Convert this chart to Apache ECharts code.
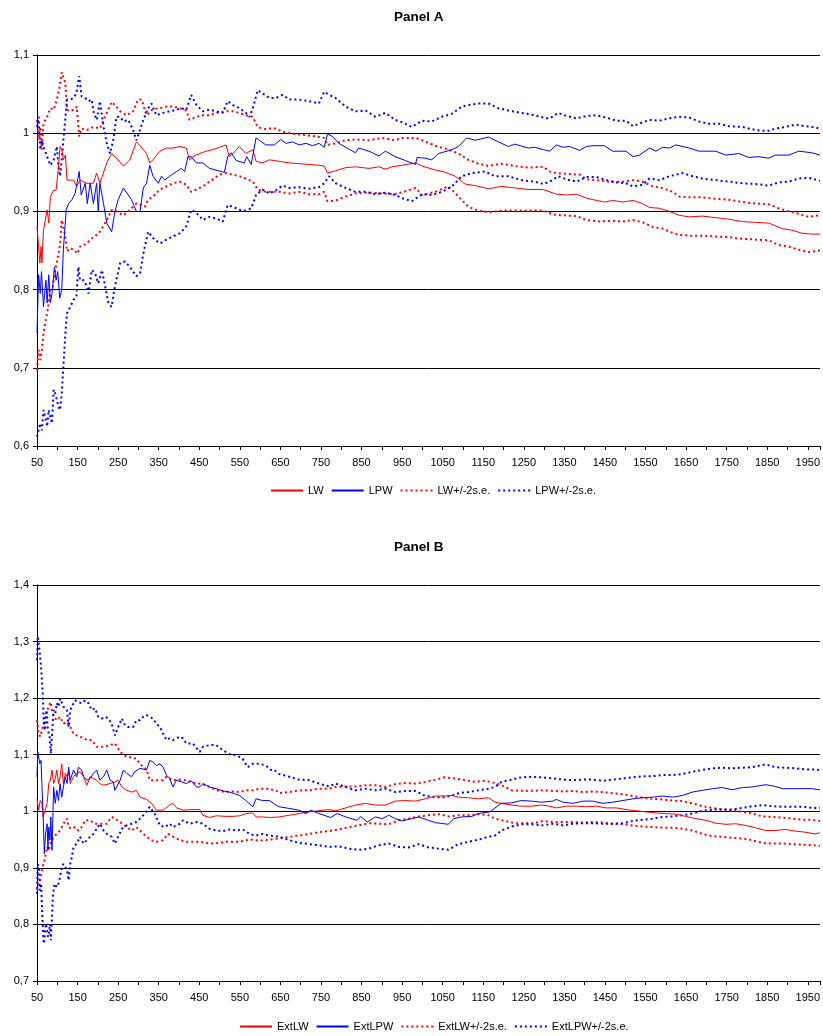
<!DOCTYPE html>
<html><head><meta charset="utf-8">
<script src="https://cdn.jsdelivr.net/npm/echarts@6/dist/echarts.min.js"></script>
<style>html,body{margin:0;padding:0;background:#fff}#c{width:823px;height:1036px}</style>
</head><body><div id="c"></div>
<script>
// ---------- data (x = observation count, y = value) ----------
const titles = ['Panel A', 'Panel B'];
const namesA = ['LW', 'LPW', 'LW+/-2s.e.', 'LPW+/-2s.e.'];
const namesB = ['ExtLW', 'ExtLPW', 'ExtLW+/-2s.e.', 'ExtLPW+/-2s.e.'];
const xMin = 50, xMax = 1980, xLabelStep = 100, xTickStep = 50;
const yRangeA = [0.6, 1.1], yRangeB = [0.7, 1.4], yStep = 0.1;

const lwA = [[50,0.881],[57,0.834],[60,0.855],[62,0.834],[66,0.876],[75,0.902],[79,0.885],[83,0.919],[91,0.927],[97,0.927],[103,0.957],[107,0.983],[111,0.979],[115,0.966],[120,0.972],[124,0.940],[132,0.940],[140,0.940],[148,0.932],[156,0.940],[173,0.936],[189,0.936],[197,0.949],[205,0.936],[222,0.962],[234,0.974],[246,0.968],[263,0.958],[279,0.966],[295,0.989],[304,0.984],[320,0.974],[328,0.962],[336,0.966],[353,0.977],[369,0.981],[385,0.981],[402,0.983],[418,0.981],[426,0.966],[434,0.970],[451,0.974],[467,0.977],[484,0.979],[516,0.985],[524,0.970],[533,0.974],[549,0.983],[565,0.974],[582,0.979],[590,0.964],[606,0.962],[623,0.966],[647,0.964],[672,0.962],[696,0.961],[721,0.960],[745,0.959],[758,0.958],[766,0.949],[786,0.952],[811,0.956],[835,0.957],[868,0.955],[893,0.957],[909,0.954],[925,0.957],[950,0.959],[983,0.962],[999,0.958],[1032,0.953],[1056,0.950],[1081,0.945],[1105,0.935],[1130,0.933],[1163,0.929],[1195,0.932],[1228,0.930],[1261,0.928],[1298,0.928],[1330,0.922],[1355,0.921],[1380,0.922],[1404,0.917],[1429,0.914],[1449,0.912],[1469,0.914],[1494,0.912],[1519,0.914],[1543,0.910],[1560,0.905],[1584,0.904],[1609,0.900],[1633,0.895],[1658,0.893],[1690,0.894],[1723,0.892],[1756,0.890],[1789,0.887],[1821,0.886],[1854,0.885],[1887,0.878],[1911,0.876],[1936,0.872],[1960,0.871],[1980,0.871]];
const lpwA = [[50,0.744],[54,0.819],[58,0.795],[61,0.823],[66,0.778],[72,0.812],[75,0.783],[79,0.819],[83,0.783],[87,0.795],[93,0.829],[97,0.812],[101,0.823],[106,0.789],[111,0.800],[115,0.851],[122,0.902],[128,0.910],[136,0.915],[144,0.923],[154,0.951],[159,0.921],[169,0.936],[174,0.910],[181,0.936],[189,0.910],[197,0.936],[201,0.900],[205,0.936],[214,0.910],[222,0.885],[234,0.874],[242,0.900],[250,0.915],[263,0.930],[275,0.921],[283,0.915],[295,0.900],[304,0.900],[312,0.930],[320,0.936],[328,0.959],[336,0.945],[349,0.936],[357,0.945],[365,0.940],[377,0.945],[394,0.951],[406,0.955],[414,0.951],[422,0.970],[430,0.970],[443,0.962],[459,0.962],[475,0.955],[512,0.950],[520,0.970],[529,0.975],[541,0.965],[561,0.962],[567,0.970],[578,0.960],[590,0.994],[598,0.991],[614,0.985],[635,0.985],[651,0.992],[664,0.987],[680,0.989],[696,0.985],[713,0.987],[729,0.984],[745,0.987],[758,0.982],[766,0.999],[778,0.996],[794,0.987],[811,0.982],[835,0.975],[843,0.981],[868,0.977],[893,0.971],[909,0.977],[933,0.970],[958,0.965],[983,0.960],[987,0.969],[1007,0.968],[1023,0.966],[1040,0.974],[1073,0.979],[1089,0.983],[1109,0.994],[1130,0.991],[1163,0.995],[1187,0.989],[1212,0.983],[1228,0.986],[1261,0.981],[1277,0.982],[1298,0.979],[1314,0.977],[1330,0.985],[1347,0.982],[1363,0.983],[1388,0.978],[1404,0.983],[1420,0.984],[1449,0.984],[1469,0.977],[1502,0.977],[1519,0.970],[1535,0.972],[1560,0.981],[1576,0.977],[1592,0.982],[1609,0.981],[1625,0.985],[1658,0.981],[1682,0.977],[1723,0.977],[1748,0.972],[1780,0.974],[1805,0.969],[1829,0.970],[1854,0.968],[1870,0.972],[1903,0.972],[1928,0.977],[1960,0.975],[1980,0.972]];
const lwUpA = [[50,1.017],[54,0.991],[58,1.008],[62,0.979],[66,1.013],[75,1.021],[83,1.032],[91,1.030],[99,1.043],[106,1.060],[111,1.078],[115,1.077],[120,1.064],[124,1.030],[132,1.028],[140,1.030],[148,1.034],[154,0.996],[160,1.006],[173,1.004],[189,1.008],[205,1.006],[222,1.026],[234,1.040],[242,1.036],[255,1.028],[271,1.023],[287,1.028],[299,1.043],[308,1.043],[320,1.023],[336,1.031],[353,1.032],[369,1.034],[385,1.034],[402,1.032],[418,1.029],[426,1.017],[443,1.021],[459,1.023],[475,1.023],[492,1.026],[516,1.028],[533,1.028],[549,1.026],[565,1.023],[582,1.021],[594,1.008],[614,1.005],[623,1.006],[639,1.006],[655,1.002],[672,1.000],[704,0.998],[737,0.996],[758,0.994],[766,0.985],[786,0.987],[811,0.991],[835,0.992],[868,0.991],[901,0.994],[933,0.991],[950,0.994],[983,0.994],[999,0.991],[1032,0.984],[1064,0.979],[1089,0.974],[1113,0.966],[1138,0.961],[1163,0.958],[1195,0.961],[1228,0.958],[1261,0.956],[1298,0.957],[1314,0.951],[1330,0.949],[1355,0.948],[1388,0.947],[1404,0.941],[1429,0.940],[1461,0.938],[1494,0.938],[1519,0.940],[1543,0.938],[1568,0.932],[1592,0.930],[1617,0.925],[1633,0.919],[1658,0.918],[1690,0.918],[1723,0.916],[1756,0.915],[1789,0.912],[1821,0.910],[1854,0.909],[1878,0.904],[1903,0.900],[1928,0.897],[1952,0.893],[1980,0.895]];
const lwLoA = [[50,0.697],[54,0.723],[58,0.710],[62,0.723],[66,0.744],[70,0.757],[75,0.770],[79,0.783],[83,0.800],[89,0.804],[95,0.825],[103,0.846],[107,0.859],[111,0.889],[115,0.881],[120,0.866],[124,0.849],[132,0.853],[140,0.851],[150,0.846],[156,0.855],[165,0.857],[173,0.859],[181,0.864],[197,0.870],[205,0.874],[222,0.889],[234,0.902],[246,0.900],[263,0.895],[279,0.902],[295,0.910],[308,0.908],[316,0.906],[324,0.915],[336,0.919],[353,0.928],[369,0.932],[385,0.936],[402,0.938],[418,0.934],[430,0.925],[443,0.928],[459,0.932],[475,0.938],[500,0.947],[516,0.949],[533,0.947],[549,0.945],[565,0.942],[582,0.938],[594,0.928],[614,0.925],[647,0.925],[672,0.923],[696,0.925],[721,0.922],[745,0.922],[758,0.925],[766,0.913],[786,0.914],[811,0.919],[835,0.923],[868,0.924],[901,0.923],[933,0.922],[966,0.927],[983,0.930],[999,0.921],[1032,0.925],[1064,0.932],[1089,0.919],[1113,0.906],[1138,0.901],[1163,0.899],[1195,0.901],[1228,0.901],[1261,0.901],[1298,0.901],[1322,0.896],[1347,0.895],[1380,0.894],[1404,0.889],[1437,0.887],[1469,0.888],[1494,0.887],[1519,0.889],[1543,0.886],[1568,0.880],[1592,0.878],[1609,0.874],[1633,0.870],[1658,0.869],[1690,0.869],[1723,0.868],[1756,0.867],[1789,0.865],[1821,0.864],[1854,0.863],[1878,0.857],[1903,0.855],[1928,0.851],[1952,0.848],[1980,0.850]];
const lpwUpA = [[50,1.008],[54,1.021],[58,0.979],[62,0.991],[66,0.983],[75,0.970],[83,0.959],[87,0.962],[91,0.966],[99,0.983],[103,0.957],[107,0.945],[111,0.966],[115,0.991],[124,1.043],[132,1.043],[140,1.045],[147,1.051],[154,1.073],[160,1.047],[169,1.045],[177,1.041],[185,1.043],[189,1.028],[197,1.017],[205,1.041],[214,1.008],[222,0.987],[230,0.974],[238,0.991],[246,1.021],[255,1.021],[263,1.015],[275,1.017],[287,1.004],[295,0.991],[304,1.004],[312,1.017],[324,1.032],[332,1.038],[344,1.023],[361,1.026],[377,1.028],[394,1.030],[406,1.032],[418,1.030],[430,1.049],[443,1.036],[459,1.028],[475,1.030],[492,1.028],[508,1.026],[520,1.041],[533,1.036],[549,1.032],[565,1.026],[574,1.021],[582,1.032],[594,1.055],[606,1.051],[623,1.045],[639,1.045],[655,1.049],[672,1.043],[696,1.043],[721,1.041],[745,1.038],[758,1.053],[770,1.049],[786,1.045],[811,1.034],[835,1.028],[860,1.029],[884,1.021],[909,1.026],[933,1.017],[950,1.014],[974,1.008],[999,1.016],[1023,1.015],[1048,1.021],[1073,1.025],[1097,1.034],[1113,1.036],[1138,1.038],[1163,1.038],[1187,1.032],[1212,1.029],[1244,1.026],[1277,1.023],[1298,1.020],[1314,1.019],[1335,1.026],[1355,1.022],[1380,1.019],[1404,1.022],[1429,1.023],[1453,1.020],[1478,1.016],[1502,1.016],[1519,1.009],[1543,1.014],[1560,1.017],[1584,1.016],[1609,1.019],[1633,1.021],[1658,1.020],[1682,1.015],[1707,1.012],[1731,1.012],[1756,1.009],[1789,1.008],[1813,1.005],[1838,1.003],[1854,1.003],[1870,1.006],[1895,1.008],[1919,1.011],[1944,1.009],[1960,1.008],[1980,1.006]];
const lpwLoA = [[50,0.612],[54,0.610],[58,0.629],[62,0.620],[66,0.646],[70,0.638],[75,0.625],[79,0.646],[83,0.646],[87,0.629],[91,0.672],[95,0.667],[99,0.659],[103,0.650],[107,0.646],[111,0.667],[115,0.702],[120,0.744],[124,0.770],[132,0.778],[140,0.787],[147,0.791],[152,0.829],[156,0.812],[165,0.812],[173,0.804],[177,0.795],[185,0.825],[193,0.821],[201,0.808],[210,0.825],[218,0.804],[226,0.783],[234,0.778],[242,0.804],[255,0.834],[267,0.836],[279,0.829],[295,0.817],[304,0.821],[312,0.846],[324,0.874],[336,0.866],[353,0.859],[369,0.864],[385,0.868],[402,0.872],[418,0.881],[430,0.902],[443,0.898],[459,0.889],[475,0.893],[492,0.891],[508,0.887],[520,0.908],[533,0.906],[549,0.902],[565,0.901],[578,0.904],[590,0.921],[606,0.928],[623,0.923],[639,0.927],[655,0.933],[672,0.930],[696,0.931],[721,0.929],[745,0.931],[758,0.936],[770,0.945],[786,0.936],[811,0.930],[835,0.925],[860,0.925],[884,0.922],[909,0.924],[933,0.921],[950,0.917],[974,0.913],[999,0.922],[1023,0.921],[1048,0.925],[1073,0.932],[1097,0.945],[1122,0.949],[1154,0.951],[1179,0.945],[1212,0.945],[1244,0.940],[1277,0.938],[1298,0.935],[1314,0.938],[1335,0.945],[1355,0.941],[1380,0.938],[1404,0.944],[1429,0.944],[1453,0.940],[1478,0.937],[1502,0.936],[1519,0.932],[1543,0.934],[1560,0.942],[1584,0.940],[1609,0.945],[1641,0.949],[1666,0.945],[1690,0.942],[1723,0.940],[1756,0.938],[1789,0.936],[1821,0.935],[1854,0.933],[1878,0.937],[1903,0.938],[1928,0.942],[1952,0.943],[1980,0.939]];

const lwB = [[50,1.022],[54,1.002],[58,1.019],[62,1.014],[65,0.990],[70,1.002],[75,1.014],[79,1.049],[83,1.055],[87,1.073],[91,1.049],[95,1.058],[99,1.073],[103,1.049],[107,1.061],[111,1.084],[115,1.049],[120,1.067],[124,1.061],[128,1.070],[132,1.049],[140,1.061],[148,1.067],[156,1.070],[165,1.061],[173,1.046],[181,1.061],[189,1.058],[197,1.055],[205,1.049],[214,1.046],[230,1.049],[242,1.052],[250,1.055],[259,1.043],[271,1.037],[283,1.034],[295,1.037],[304,1.025],[320,1.021],[332,1.014],[344,1.002],[361,1.002],[377,1.011],[385,1.014],[394,1.006],[410,1.002],[430,1.003],[451,1.003],[459,0.993],[475,0.989],[492,0.992],[516,0.991],[533,0.991],[549,0.992],[565,0.996],[582,0.997],[590,0.990],[606,0.990],[623,0.989],[647,0.990],[672,0.993],[696,0.996],[721,0.999],[745,1.001],[770,1.003],[786,1.001],[811,1.006],[835,1.011],[860,1.014],[884,1.011],[909,1.011],[933,1.018],[958,1.019],[983,1.018],[1007,1.022],[1032,1.027],[1056,1.027],[1073,1.028],[1089,1.025],[1113,1.024],[1138,1.022],[1163,1.024],[1179,1.016],[1195,1.014],[1220,1.011],[1244,1.009],[1269,1.009],[1293,1.011],[1314,1.009],[1330,1.006],[1355,1.009],[1380,1.009],[1404,1.008],[1429,1.009],[1453,1.006],[1478,1.006],[1502,1.003],[1527,1.001],[1551,0.999],[1576,0.997],[1600,0.996],[1625,0.995],[1649,0.991],[1674,0.987],[1699,0.984],[1723,0.979],[1748,0.977],[1772,0.978],[1797,0.975],[1821,0.971],[1846,0.966],[1870,0.966],[1895,0.968],[1919,0.965],[1944,0.963],[1968,0.960],[1980,0.962]];
const lpwB = [[50,1.061],[52,1.105],[57,1.084],[60,1.090],[62,1.049],[65,0.996],[68,0.925],[71,0.960],[75,0.978],[77,0.931],[79,0.972],[82,0.949],[84,0.990],[87,0.931],[91,1.043],[95,1.014],[99,1.037],[103,1.019],[107,1.049],[111,1.025],[115,1.043],[120,1.061],[124,1.049],[128,1.078],[132,1.055],[140,1.073],[148,1.061],[152,1.078],[160,1.073],[165,1.061],[173,1.055],[181,1.058],[189,1.067],[197,1.073],[205,1.055],[214,1.061],[222,1.073],[230,1.055],[238,1.052],[242,1.037],[255,1.055],[263,1.073],[271,1.067],[283,1.061],[291,1.070],[304,1.076],[320,1.073],[328,1.090],[336,1.087],[344,1.081],[353,1.084],[361,1.078],[369,1.064],[377,1.058],[385,1.043],[394,1.055],[406,1.052],[418,1.049],[430,1.054],[443,1.043],[451,1.043],[459,1.049],[475,1.043],[492,1.040],[508,1.036],[524,1.034],[537,1.031],[549,1.028],[565,1.019],[582,1.008],[590,1.022],[606,1.019],[623,1.019],[639,1.011],[647,1.008],[672,1.005],[696,1.002],[713,0.996],[725,1.002],[745,0.996],[774,0.989],[790,0.996],[811,0.990],[839,0.984],[848,0.991],[864,0.981],[884,0.990],[901,0.987],[917,0.993],[933,0.987],[950,0.983],[974,0.987],[991,0.990],[1015,0.984],[1032,0.980],[1064,0.977],[1077,0.987],[1097,0.990],[1122,0.991],[1138,0.996],[1167,0.999],[1179,1.006],[1195,1.014],[1220,1.015],[1244,1.019],[1269,1.018],[1293,1.016],[1322,1.018],[1330,1.021],[1347,1.016],[1371,1.014],[1396,1.018],[1420,1.018],[1445,1.014],[1469,1.016],[1494,1.019],[1519,1.022],[1543,1.024],[1568,1.025],[1592,1.027],[1617,1.025],[1641,1.028],[1666,1.034],[1690,1.037],[1715,1.040],[1739,1.042],[1764,1.038],[1789,1.042],[1813,1.043],[1846,1.047],[1870,1.044],[1887,1.040],[1911,1.040],[1936,1.040],[1960,1.040],[1980,1.038]];
const lwUpB = [[50,1.161],[54,1.137],[58,1.132],[62,1.143],[66,1.155],[70,1.167],[75,1.179],[79,1.185],[83,1.193],[87,1.179],[91,1.167],[99,1.161],[107,1.167],[115,1.155],[124,1.158],[132,1.149],[140,1.137],[148,1.134],[156,1.132],[165,1.129],[173,1.126],[185,1.126],[197,1.114],[214,1.114],[230,1.117],[242,1.120],[255,1.105],[271,1.096],[283,1.095],[295,1.093],[304,1.084],[312,1.078],[320,1.074],[328,1.055],[344,1.055],[361,1.055],[369,1.061],[385,1.055],[402,1.056],[418,1.055],[434,1.050],[451,1.049],[467,1.046],[484,1.040],[500,1.036],[516,1.034],[533,1.035],[549,1.034],[565,1.037],[582,1.037],[598,1.040],[614,1.040],[639,1.037],[647,1.032],[672,1.034],[696,1.037],[721,1.037],[745,1.040],[770,1.040],[786,1.043],[811,1.044],[835,1.044],[860,1.046],[884,1.046],[909,1.043],[933,1.048],[958,1.050],[983,1.049],[1007,1.052],[1032,1.056],[1056,1.060],[1081,1.058],[1105,1.055],[1130,1.052],[1154,1.054],[1179,1.050],[1195,1.046],[1220,1.037],[1261,1.036],[1298,1.037],[1322,1.036],[1347,1.035],[1371,1.036],[1396,1.034],[1420,1.035],[1445,1.034],[1469,1.032],[1494,1.030],[1519,1.027],[1543,1.024],[1568,1.022],[1592,1.021],[1617,1.019],[1641,1.018],[1666,1.014],[1690,1.009],[1715,1.006],[1739,1.003],[1764,1.002],[1789,0.999],[1813,0.996],[1838,0.991],[1862,0.990],[1887,0.989],[1911,0.987],[1936,0.985],[1960,0.985],[1980,0.983]];
const lwLoB = [[50,0.860],[54,0.866],[58,0.878],[62,0.896],[66,0.907],[70,0.919],[75,0.937],[79,0.931],[83,0.943],[87,0.943],[91,0.955],[99,0.960],[107,0.966],[115,0.978],[124,0.987],[128,0.972],[136,0.969],[144,0.972],[152,0.966],[160,0.972],[169,0.984],[181,0.984],[193,0.978],[205,0.978],[222,0.978],[234,0.990],[242,0.987],[255,0.981],[271,0.972],[283,0.966],[295,0.972],[304,0.966],[320,0.955],[332,0.949],[344,0.946],[361,0.949],[373,0.960],[385,0.955],[402,0.949],[418,0.946],[434,0.946],[451,0.946],[467,0.944],[484,0.943],[500,0.944],[516,0.946],[533,0.946],[549,0.946],[565,0.949],[582,0.950],[598,0.948],[614,0.949],[623,0.950],[647,0.952],[672,0.955],[696,0.957],[721,0.960],[745,0.963],[770,0.965],[794,0.968],[819,0.972],[843,0.975],[868,0.979],[893,0.978],[917,0.977],[942,0.984],[966,0.987],[991,0.991],[1015,0.993],[1040,0.995],[1064,0.991],[1089,0.993],[1113,0.993],[1138,0.995],[1163,0.993],[1179,0.987],[1203,0.983],[1228,0.979],[1252,0.979],[1277,0.979],[1298,0.983],[1322,0.981],[1347,0.981],[1371,0.981],[1396,0.980],[1420,0.981],[1445,0.980],[1469,0.978],[1494,0.977],[1519,0.975],[1543,0.973],[1568,0.972],[1592,0.971],[1617,0.971],[1641,0.969],[1666,0.966],[1690,0.960],[1715,0.956],[1739,0.955],[1764,0.953],[1789,0.952],[1813,0.949],[1838,0.944],[1862,0.943],[1887,0.943],[1911,0.942],[1936,0.941],[1960,0.940],[1980,0.939]];
const lpwUpB = [[50,1.267],[52,1.309],[55,1.291],[57,1.279],[60,1.255],[62,1.232],[65,1.196],[66,1.167],[69,1.143],[71,1.161],[74,1.179],[76,1.149],[79,1.137],[81,1.132],[84,1.102],[91,1.179],[95,1.173],[99,1.191],[103,1.185],[107,1.199],[115,1.185],[124,1.179],[128,1.149],[132,1.179],[136,1.185],[144,1.196],[152,1.193],[160,1.191],[169,1.196],[177,1.191],[185,1.179],[193,1.182],[201,1.167],[210,1.164],[218,1.167],[226,1.164],[234,1.155],[242,1.134],[250,1.149],[259,1.164],[267,1.152],[275,1.149],[287,1.149],[295,1.161],[304,1.161],[312,1.167],[320,1.170],[328,1.167],[336,1.164],[344,1.155],[353,1.149],[361,1.137],[369,1.126],[377,1.129],[385,1.126],[402,1.132],[410,1.129],[418,1.120],[434,1.120],[451,1.105],[459,1.114],[475,1.117],[492,1.117],[508,1.108],[524,1.101],[541,1.099],[557,1.093],[569,1.078],[582,1.084],[598,1.084],[614,1.081],[627,1.073],[635,1.073],[647,1.066],[672,1.061],[696,1.056],[721,1.055],[745,1.049],[770,1.044],[786,1.049],[811,1.043],[835,1.037],[860,1.040],[884,1.037],[909,1.040],[933,1.034],[958,1.036],[983,1.036],[1007,1.027],[1032,1.025],[1056,1.025],[1073,1.028],[1089,1.032],[1113,1.034],[1138,1.037],[1163,1.040],[1179,1.043],[1195,1.052],[1220,1.056],[1244,1.060],[1269,1.061],[1293,1.060],[1322,1.058],[1347,1.056],[1371,1.055],[1396,1.056],[1420,1.056],[1445,1.054],[1469,1.056],[1494,1.058],[1519,1.060],[1543,1.062],[1568,1.062],[1592,1.064],[1617,1.064],[1641,1.066],[1666,1.070],[1690,1.073],[1715,1.076],[1739,1.077],[1764,1.076],[1789,1.077],[1813,1.078],[1846,1.083],[1870,1.078],[1895,1.077],[1919,1.076],[1944,1.074],[1968,1.074],[1980,1.073]];
const lpwLoB = [[50,0.854],[52,0.907],[55,0.896],[57,0.860],[60,0.872],[62,0.837],[65,0.783],[67,0.766],[70,0.789],[72,0.801],[75,0.789],[77,0.778],[79,0.783],[82,0.801],[84,0.772],[87,0.813],[89,0.848],[93,0.872],[99,0.866],[103,0.872],[107,0.884],[111,0.901],[115,0.907],[120,0.901],[124,0.896],[128,0.878],[132,0.907],[136,0.919],[140,0.937],[148,0.943],[156,0.955],[165,0.943],[173,0.949],[181,0.955],[189,0.960],[197,0.969],[205,0.978],[214,0.966],[222,0.960],[234,0.955],[242,0.943],[250,0.955],[259,0.969],[271,0.975],[283,0.978],[295,0.981],[304,0.987],[316,0.996],[328,1.008],[340,0.996],[353,0.975],[365,0.972],[377,0.978],[385,0.972],[402,0.978],[410,0.984],[426,0.978],[443,0.981],[459,0.978],[475,0.969],[492,0.966],[508,0.965],[524,0.968],[541,0.966],[557,0.968],[574,0.960],[590,0.957],[606,0.960],[623,0.957],[647,0.955],[672,0.949],[696,0.944],[721,0.942],[745,0.940],[770,0.937],[794,0.938],[819,0.934],[843,0.932],[868,0.934],[893,0.940],[917,0.943],[942,0.937],[966,0.936],[991,0.942],[1015,0.936],[1040,0.934],[1064,0.932],[1089,0.942],[1113,0.946],[1138,0.950],[1163,0.955],[1179,0.957],[1195,0.966],[1220,0.973],[1244,0.977],[1269,0.977],[1293,0.975],[1322,0.978],[1347,0.975],[1371,0.978],[1396,0.979],[1420,0.979],[1445,0.978],[1469,0.978],[1494,0.979],[1519,0.983],[1543,0.985],[1568,0.987],[1592,0.990],[1617,0.991],[1641,0.993],[1666,0.996],[1690,1.001],[1715,1.003],[1739,1.003],[1764,1.003],[1789,1.006],[1813,1.009],[1838,1.011],[1862,1.009],[1887,1.008],[1911,1.008],[1936,1.008],[1960,1.006],[1980,1.006]];

// ---------- chart ----------
const RED = '#ff0000', BLUE = '#0000ff';
const FONT = 'Liberation Sans, Arial, sans-serif';
const chart = echarts.init(document.getElementById('c'), null, {renderer: 'canvas'});

function mk(name, data, color, dashed, idx) {
  return {
    name, type: 'line', data, xAxisIndex: idx, yAxisIndex: idx,
    symbol: 'none', showSymbol: false, silent: true, animation: false,
    itemStyle: {color},
    lineStyle: {color, width: dashed ? 2 : 1, type: dashed ? [2, 3] : 'solid'}
  };
}
function xAxis(idx) {
  return {
    type: 'value', gridIndex: idx, min: xMin, max: xMax, interval: xTickStep,
    axisLine: {show: true, lineStyle: {color: '#000', width: 1}},
    axisTick: {show: true, length: 4, lineStyle: {color: '#000'}},
    splitLine: {show: false},
    axisLabel: {
      color: '#000', fontFamily: FONT, fontSize: 11, margin: 11,
      formatter: v => ((v - xMin) % xLabelStep === 0 ? String(v) : '')
    }
  };
}
function yAxis(idx, r) {
  return {
    type: 'value', gridIndex: idx, min: r[0], max: r[1], interval: yStep,
    axisLine: {show: true, lineStyle: {color: '#000', width: 1}},
    axisTick: {show: true, length: 4, lineStyle: {color: '#000'}},
    splitLine: {show: true, lineStyle: {color: '#000', width: 1}},
    axisLabel: {
      color: '#000', fontFamily: FONT, fontSize: 11, margin: 8,
      formatter: v => String(+v.toFixed(1)).replace('.', ',')
    }
  };
}
function legend(names, left, top) {
  return {
    data: names, left, top, orient: 'horizontal', itemWidth: 32, itemHeight: 10, itemGap: 7,
    selectedMode: false,
    itemStyle: {opacity: 0},
    textStyle: {color: '#000', fontFamily: FONT, fontSize: 11}
  };
}

chart.setOption({
  animation: false,
  backgroundColor: '#fff',
  title: [
    {text: titles[0], left: 389, top: 5, textStyle: {fontFamily: FONT, fontSize: 13.5, fontWeight: 'bold', color: '#000'}},
    {text: titles[1], left: 389, top: 535, textStyle: {fontFamily: FONT, fontSize: 13.5, fontWeight: 'bold', color: '#000'}}
  ],
  legend: [legend(namesA, 265, 480), legend(namesB, 234, 1016)],
  grid: [
    {left: 37, right: 0, top: 55, height: 391},
    {left: 37, right: 0, top: 585, height: 396}
  ],
  xAxis: [xAxis(0), xAxis(1)],
  yAxis: [yAxis(0, yRangeA), yAxis(1, yRangeB)],
  series: [
    mk(namesA[2], lwUpA, RED, true, 0),
    mk(namesA[2], lwLoA, RED, true, 0),
    mk(namesA[3], lpwUpA, BLUE, true, 0),
    mk(namesA[3], lpwLoA, BLUE, true, 0),
    mk(namesA[0], lwA, RED, false, 0),
    mk(namesA[1], lpwA, BLUE, false, 0),
    mk(namesB[2], lwUpB, RED, true, 1),
    mk(namesB[2], lwLoB, RED, true, 1),
    mk(namesB[3], lpwUpB, BLUE, true, 1),
    mk(namesB[3], lpwLoB, BLUE, true, 1),
    mk(namesB[0], lwB, RED, false, 1),
    mk(namesB[1], lpwB, BLUE, false, 1)
  ]
});
</script></body></html>
